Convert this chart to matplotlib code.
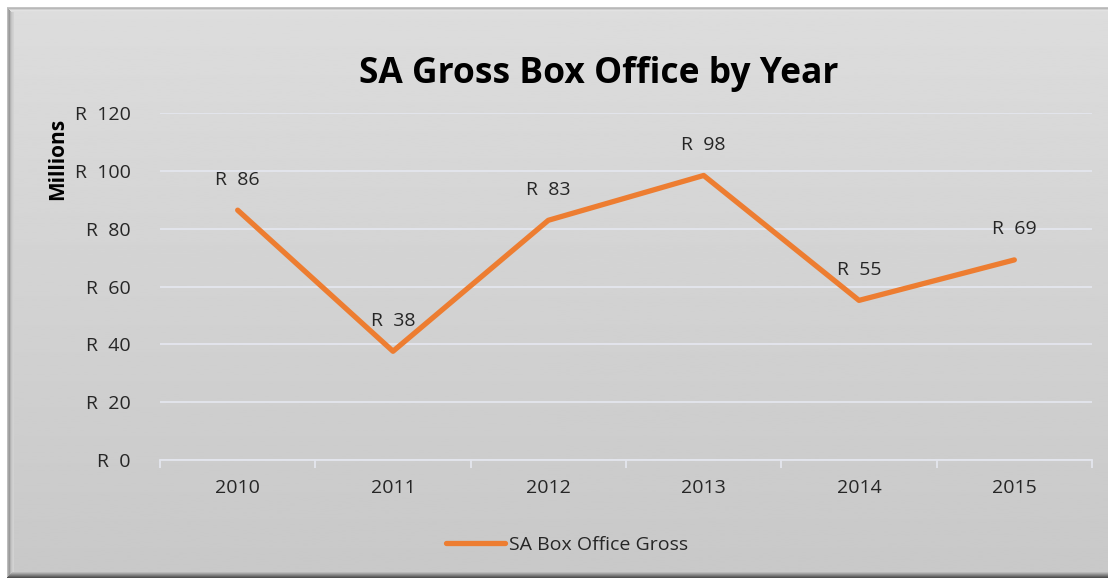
import numpy as np
import matplotlib
matplotlib.use("Agg")
import matplotlib.pyplot as plt
from matplotlib.patches import Rectangle

years = ["2010", "2011", "2012", "2013", "2014", "2015"]
gross = [86.4, 37.6, 82.9, 98.4, 55.2, 69.2]     # millions of Rand
y_ticks = [0, 20, 40, 60, 80, 100, 120]

plt.rcParams['font.family'] = ['Open Sans', 'DejaVu Sans']

W, H = 1108, 578
fig = plt.figure(figsize=(W / 100, H / 100), dpi=100)
fig.patch.set_facecolor("white")

# grey gradient chart frame, bevelled on the left/top, dark shadow at the bottom
fw, fh = W - 7, H - 7
bg = fig.add_axes([7 / W, 0, fw / W, fh / H])
bg.axis("off")
grad = np.linspace(0.865, 0.785, 256).reshape(-1, 1)
bg.imshow(grad, cmap="gray", vmin=0, vmax=1, aspect="auto", extent=[0, fw, 0, fh])
# left bevel
for i, c in enumerate(["#bdbdbd", "#a6a6a6", "#9a9a9a", "#b4b4b4", "#c4c4c4", "#cdcdcd", "#d2d2d2"]):
    bg.add_patch(Rectangle((i, 0), 1, fh, color=c, lw=0))
# top bevel
for i, c in enumerate(["#c4c4c4", "#b8b8b8", "#d0d0d0", "#e2e2e2", "#dedede"]):
    bg.add_patch(Rectangle((i, fh - 1 - i), fw, 1, color=c, lw=0))
# bottom shadow
for i, c in enumerate(["#505050", "#646464", "#7a7a7a", "#8e8e8e", "#a4a4a4", "#b8b8b8"]):
    bg.add_patch(Rectangle((i, i), fw, 1, color=c, lw=0))
bg.set_xlim(0, fw)
bg.set_ylim(0, fh)

# plot area
ax = fig.add_axes([160 / W, 118 / H, (1092 - 160) / W, (460 - 113) / H])
ax.patch.set_alpha(0)
x = np.arange(len(years))
ax.plot(x, gross, color="#ED7D31", lw=3.8, solid_capstyle="round",
        label="SA Box Office Gross", zorder=3)
for xi, v in zip(x, gross):
    ax.annotate(f"R  {v:.0f}", (xi, v), xytext=(0, 22), textcoords="offset points",
                ha="center", va="center", fontsize=14, color="#262626")

ax.set_xlim(-0.5, len(years) - 0.5)
ax.set_ylim(0, 120)
ax.set_yticks(y_ticks)
ax.set_yticklabels([f"R  {t}" for t in y_ticks])
ax.set_xticks(x)
ax.set_xticklabels(years)
ax.set_xticks(np.arange(-0.5, len(years)), minor=True)
ax.tick_params(axis="x", which="major", length=0, pad=14, labelsize=14, labelcolor="#262626")
ax.tick_params(axis="x", which="minor", length=6, color="#e4e6ee", width=1.3)
ax.tick_params(axis="y", length=0, pad=21, labelsize=14, labelcolor="#262626")
ax.grid(axis="y", color="#e4e6ee", lw=1.3)
for s in ["top", "right", "left"]:
    ax.spines[s].set_visible(False)
ax.spines["bottom"].set_color("#e4e6ee")
ax.spines["bottom"].set_linewidth(1.3)

fig.text(599 / W, 1 - 74 / H, "SA Gross Box Office by Year", ha="center", va="center",
         fontsize=25.5, fontweight="bold", color="black")
fig.text(58 / W, 1 - 159 / H, "Millions", rotation=90, ha="center", va="center",
         fontsize=15, fontweight="bold", color="black")

leg = fig.legend(loc="center", bbox_to_anchor=(567 / W, 1 - 545 / H), frameon=False,
                 fontsize=14, handlelength=3.0, handletextpad=0.2)
for t in leg.get_texts():
    t.set_color("#262626")

fig.savefig("out.png", dpi=100, facecolor=fig.get_facecolor())
